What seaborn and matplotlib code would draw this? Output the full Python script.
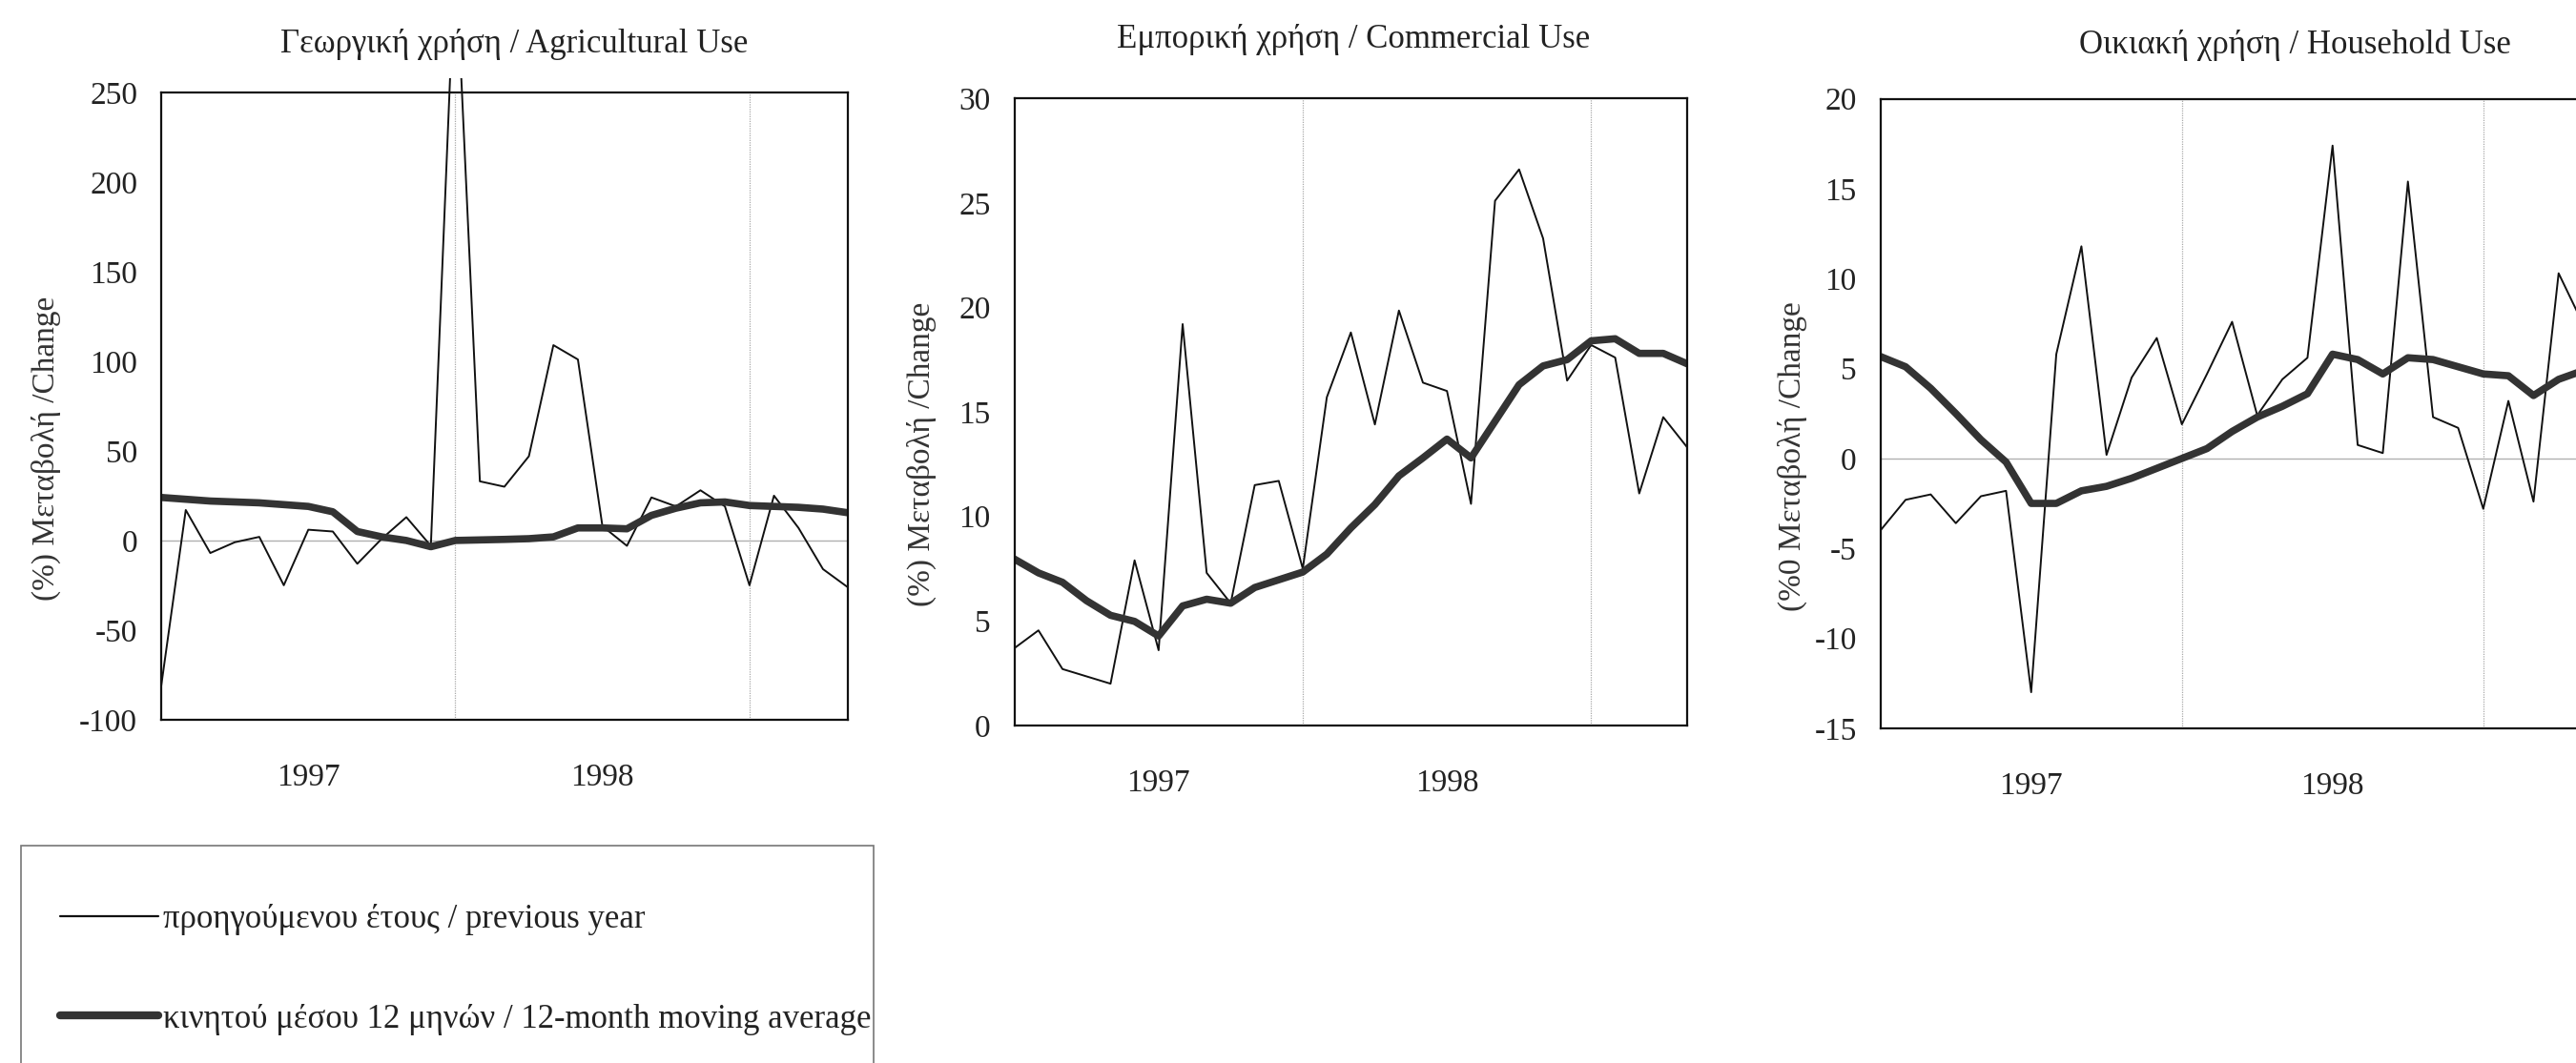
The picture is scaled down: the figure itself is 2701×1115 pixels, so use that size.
import matplotlib
matplotlib.use("Agg")
import numpy as np
import pandas as pd
import seaborn as sns
import matplotlib.pyplot as plt
from matplotlib.lines import Line2D
from matplotlib.patches import Rectangle

# monthly index, Jan 1997 = 0
months = np.arange(29)
year_labels = ["1997", "1998"]
year_label_pos = [6, 18]
year_breaks = [12, 24]

titles = ["Γεωργική χρήση / Agricultural Use",
          "Εμπορική χρήση / Commercial Use",
          "Οικιακή χρήση / Household Use"]
ylabels = ["(%) Μεταβολή /Change", "(%) Μεταβολή /Change", "(%0 Μεταβολή /Change"]
legend_labels = ["προηγούμενου έτους / previous year",
                 "κινητού μέσου 12 μηνών / 12-month moving average"]

agri_prev = [-81, 17, -7, -1, 2, -25, 6, 5, -13, 1, 13, -3, 330, 33, 30, 47, 109, 101,
             8, -3, 24, 19, 28, 19, -25, 25, 7, -16, -26]
agri_ma = [24, 23, 22, 21.5, 21, 20, 19, 16, 5, 2, 0, -3.5, 0, 0.3, 0.6, 1, 2, 7, 7,
           6.5, 14, 18, 21, 21.5, 19.5, 19, 18.5, 17.5, 15.5]

comm_prev = [3.7, 4.55, 2.7, 2.35, 2.0, 7.9, 3.6, 19.2, 7.3, 5.85, 11.5, 11.7, 7.5,
             15.7, 18.8, 14.4, 19.85, 16.4, 16.0, 10.6, 25.1, 26.6, 23.3, 16.5, 18.2,
             17.6, 11.1, 14.75, 13.3]
comm_ma = [7.96, 7.3, 6.85, 5.97, 5.27, 4.98, 4.28, 5.72, 6.04, 5.85, 6.6, 6.97, 7.34,
           8.2, 9.45, 10.57, 11.94, 12.8, 13.7, 12.8, 14.55, 16.3, 17.2, 17.5, 18.4,
           18.5, 17.8, 17.8, 17.3]

house_prev = [-4.0, -2.3, -2.0, -3.6, -2.1, -1.8, -13.0, 5.8, 11.8, 0.2, 4.5, 6.7, 1.9,
              4.7, 7.6, 2.4, 4.4, 5.6, 17.4, 0.75, 0.3, 15.4, 2.3, 1.7, -2.8, 3.2, -2.4,
              10.3, 7.4]
house_ma = [5.67, 5.1, 3.9, 2.5, 1.04, -0.2, -2.5, -2.5, -1.8, -1.55, -1.1, -0.55, 0.0,
            0.55, 1.5, 2.3, 2.9, 3.6, 5.8, 5.5, 4.7, 5.6, 5.5, 5.1, 4.7, 4.6, 3.5, 4.4, 4.9]

ylims = [(-100, 250), (0, 30), (-15, 20)]
ystep = [50, 5, 5]

sns.set_theme(style="white")
plt.rcParams["font.family"] = ["Liberation Serif", "DejaVu Serif"]
plt.rcParams["axes.unicode_minus"] = False

fig = plt.figure(figsize=(27.01, 11.15), dpi=100)
ax1 = fig.add_axes([0.0626, 0.323, 0.2664, 0.590])
ax2 = fig.add_axes([0.3938, 0.3175, 0.2612, 0.590])
ax3 = fig.add_axes([0.730, 0.315, 0.273, 0.592])
axes = [ax1, ax2, ax3]

series = [(agri_prev, agri_ma), (comm_prev, comm_ma), (house_prev, house_ma)]
title_pos = [(0.1996, 0.958), (0.5255, 0.963), (0.891, 0.958)]
ylabel_x = [-0.146, -0.116, -0.104]

for i, ax in enumerate(axes):
    prev, ma = series[i]
    df = pd.DataFrame({"month": months, "prev": prev, "ma": ma})
    lo, hi = ylims[i]
    for xb in year_breaks:
        ax.axvline(xb, color="#aaaaaa", lw=0.9, ls=(0, (1, 1)), zorder=0)
    if lo < 0:
        ax.axhline(0, color="#b0b0b0", lw=1.0, zorder=0)
    sns.lineplot(data=df, x="month", y="prev", ax=ax, color="#111111", lw=1.4)
    sns.lineplot(data=df, x="month", y="ma", ax=ax, color="#333333", lw=5.5,
                 solid_capstyle="round")
    ax.set_xlim(0, 28)
    ax.set_ylim(lo, hi)
    ax.set_yticks(np.arange(lo, hi + 1, ystep[i]))
    ax.set_xticks(year_label_pos)
    ax.set_xticklabels(year_labels)
    ax.tick_params(axis="y", length=0, pad=18, labelsize=24, labelcolor="#222222")
    ax.tick_params(axis="x", length=0, pad=33, labelsize=24, labelcolor="#222222")
    ax.set_xlabel("")
    ax.set_ylabel(ylabels[i], fontsize=24, color="#333333")
    ax.yaxis.set_label_coords(ylabel_x[i], 0.432)
    for sp in ax.spines.values():
        sp.set_color("#111111")
        sp.set_linewidth(1.6)
    fig.text(title_pos[i][0], title_pos[i][1], titles[i], ha="center", va="center",
             fontsize=25, color="#222222")

# the agricultural spike pokes a little above the frame
spike = ax1.lines[-2]
clip = Rectangle((0, 0), 1, 1.023, transform=ax1.transAxes, visible=False)
ax1.add_patch(clip)
spike.set_clip_path(clip)

handles = [Line2D([], [], color="#111111", lw=1.6),
           Line2D([], [], color="#333333", lw=6, solid_capstyle="round")]
fig.legend(handles, legend_labels, loc="upper left", bbox_to_anchor=(0.017, 0.165),
           frameon=False, fontsize=25, handlelength=2.95, handletextpad=0.15,
           labelspacing=2.05, borderpad=0, labelcolor="#222222")
fig.patches.append(Rectangle((0.008, -0.05), 0.331, 0.2545, transform=fig.transFigure,
                             fill=False, ec="#777777", lw=1.2))

fig.savefig("out.png", dpi=100)
